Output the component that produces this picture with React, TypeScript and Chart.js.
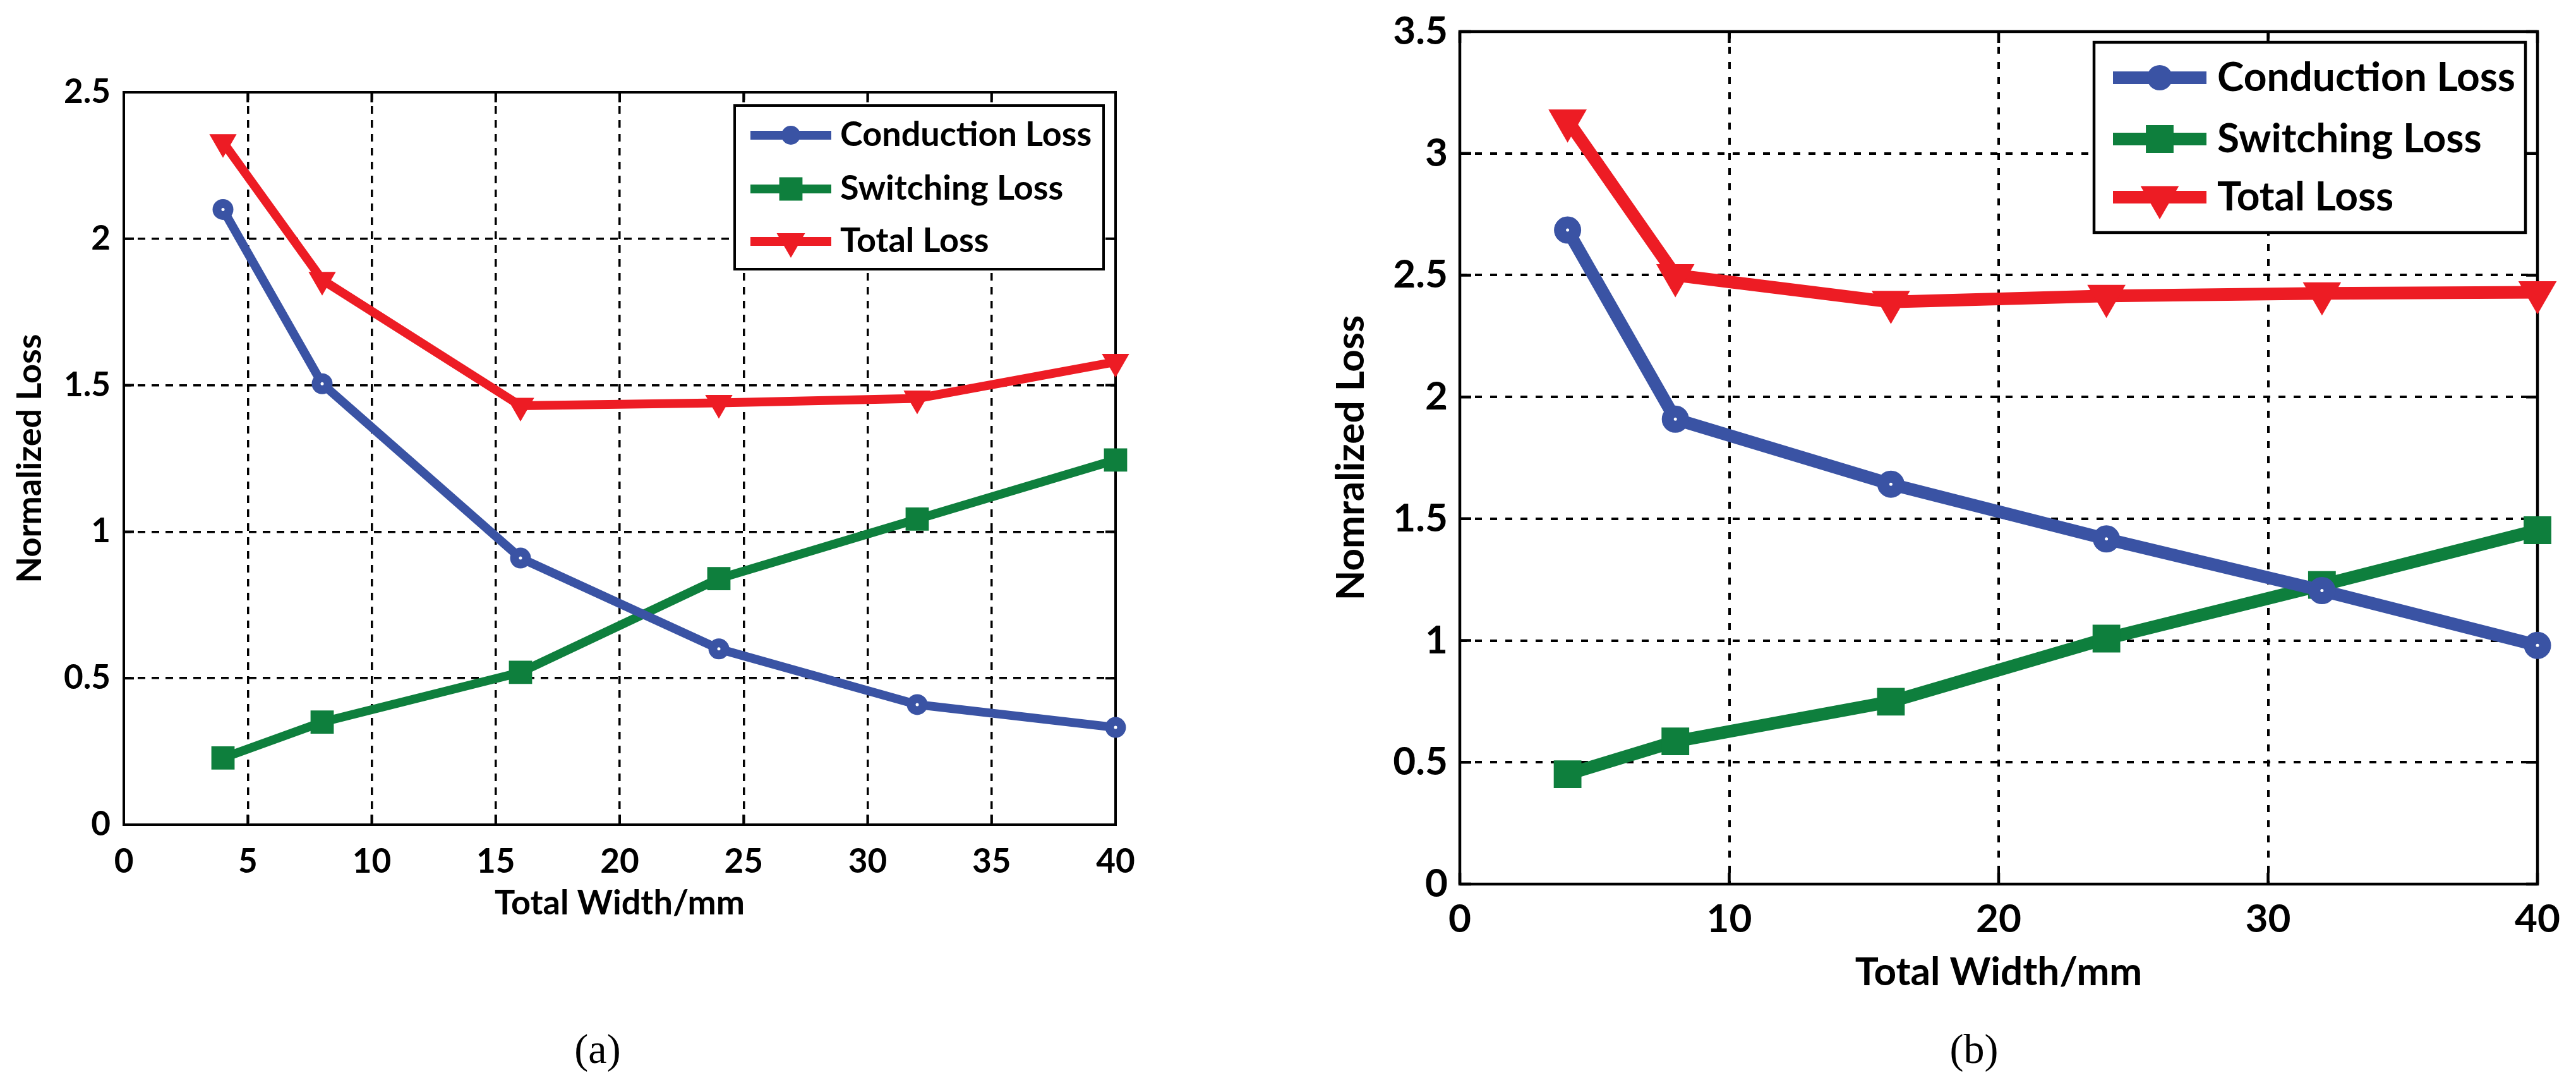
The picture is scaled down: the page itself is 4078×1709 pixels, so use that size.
import { useEffect, useRef } from 'react';
import { Chart, registerables, Plugin, ChartConfiguration } from 'chart.js';
import { drawPoint } from 'chart.js/helpers';

Chart.register(...registerables);

// ---- data ----
const widths = [4, 8, 16, 24, 32, 40];
const seriesNames = ['Conduction Loss', 'Switching Loss', 'Total Loss'];

const conductionA = [2.1, 1.505, 0.91, 0.6, 0.41, 0.332];
const switchingA = [0.228, 0.35, 0.52, 0.84, 1.043, 1.245];
const totalA = [2.33, 1.86, 1.43, 1.44, 1.455, 1.58];

const conductionB = [2.685, 1.909, 1.642, 1.417, 1.205, 0.98];
const switchingB = [0.451, 0.586, 0.749, 1.008, 1.228, 1.453];
const totalB = [3.135, 2.5, 2.39, 2.415, 2.425, 2.43];

const xTicksA = [0, 5, 10, 15, 20, 25, 30, 35, 40];
const yTicksA = [0, 0.5, 1, 1.5, 2, 2.5];
const xTicksB = [0, 10, 20, 30, 40];
const yTicksB = [0, 0.5, 1, 1.5, 2, 2.5, 3, 3.5];

const xTitle = 'Total Width/mm';
const yTitleA = 'Normalized Loss';
const yTitleB = 'Nomralized Loss';
const captions = ['(a)', '(b)'];

const colors = ['#3A53A4', '#0E7F3D', '#ED1C24'];
const FONT = 'Lato';

// ---- plugins ----
const axisFrame: Plugin = {
  id: 'axisFrame',
  beforeDatasetsDraw(chart, _args, opts: any) {
    const { ctx, chartArea } = chart;
    const { left, right, top, bottom } = chartArea;
    const xs = chart.scales.x;
    const ys = chart.scales.y;
    ctx.save();
    ctx.strokeStyle = '#000';
    ctx.lineWidth = opts.lineWidth;
    ctx.strokeRect(left, top, right - left, bottom - top);
    ctx.beginPath();
    xs.ticks.forEach((t) => {
      const px = xs.getPixelForValue(t.value);
      ctx.moveTo(px, bottom);
      ctx.lineTo(px, bottom - opts.tick);
      ctx.moveTo(px, top);
      ctx.lineTo(px, top + opts.tick);
    });
    ys.ticks.forEach((t) => {
      const py = ys.getPixelForValue(t.value);
      ctx.moveTo(left, py);
      ctx.lineTo(left + opts.tick, py);
      ctx.moveTo(right, py);
      ctx.lineTo(right - opts.tick, py);
    });
    ctx.stroke();
    ctx.restore();
  },
};

const boxLegend: Plugin = {
  id: 'boxLegend',
  afterDatasetsDraw(chart, _args, opts: any) {
    const { ctx } = chart;
    const [l, t, r, b] = opts.box;
    ctx.save();
    ctx.fillStyle = '#fff';
    ctx.fillRect(l, t, r - l, b - t);
    ctx.lineWidth = opts.borderWidth;
    ctx.strokeStyle = '#000';
    ctx.strokeRect(l, t, r - l, b - t);
    const [x1, x2] = opts.sample;
    chart.data.datasets.forEach((ds: any, i: number) => {
      const y = opts.rows[i];
      ctx.strokeStyle = ds.borderColor;
      ctx.lineWidth = ds.borderWidth;
      ctx.beginPath();
      ctx.moveTo(x1, y);
      ctx.lineTo(x2, y);
      ctx.stroke();
      ctx.fillStyle = ds.borderColor;
      drawPoint(
        ctx,
        { pointStyle: ds.pointStyle, rotation: ds.pointRotation || 0, radius: opts.markerRadius[i], borderWidth: 0 } as any,
        (x1 + x2) / 2,
        y
      );
      ctx.fillStyle = '#000';
      ctx.font = `bold ${opts.fontSize}px ${FONT}`;
      ctx.textBaseline = 'middle';
      ctx.textAlign = 'left';
      ctx.fillText(ds.label, opts.textX, y);
    });
    ctx.restore();
  },
};

// ---- panel styling ----
interface PanelStyle {
  canvasLeft: number;
  canvasWidth: number;
  padding: { left: number; top: number; right: number; bottom: number };
  yAxisWidth: number;
  xAxisHeight: number;
  tickFont: number;
  titleFont: number;
  yTickPad: number;
  xTickPad: number;
  lineWidth: number;
  circleRadius: number;
  circleBorder: number;
  rectRadius: number;
  triRadius: number;
  dash: number[];
  gridWidth: number;
  frameWidth: number;
  tickLen: number;
  legend: any;
  caption: { x: number; y: number; size: number };
}

const styleA: PanelStyle = {
  canvasLeft: 0,
  canvasWidth: 2040,
  padding: { left: 21, top: 146, right: 274, bottom: 252 },
  yAxisWidth: 175,
  xAxisHeight: 152,
  tickFont: 53,
  titleFont: 54,
  yTickPad: 21,
  xTickPad: 32,
  lineWidth: 14,
  circleRadius: 9.5,
  circleBorder: 14,
  rectRadius: 26,
  triRadius: 25,
  dash: [12, 10],
  gridWidth: 3.5,
  frameWidth: 4,
  tickLen: 16,
  legend: {
    box: [1163, 167, 1747, 426],
    rows: [214, 299, 382],
    sample: [1188, 1316],
    textX: 1330,
    fontSize: 54,
    borderWidth: 4,
    markerRadius: [15, 26, 26],
  },
  caption: { x: 946, y: 1660, size: 66 },
};

const styleB: PanelStyle = {
  canvasLeft: 2040,
  canvasWidth: 2038,
  padding: { left: 68, top: 42, right: 56, bottom: 139 },
  yAxisWidth: 203,
  xAxisHeight: 171,
  tickFont: 62,
  titleFont: 62,
  yTickPad: 19,
  xTickPad: 25,
  lineWidth: 20,
  circleRadius: 12,
  circleBorder: 19,
  rectRadius: 31,
  triRadius: 35,
  dash: [11, 13],
  gridWidth: 4,
  frameWidth: 4.5,
  tickLen: 18,
  legend: {
    box: [1275, 67, 1958, 368],
    rows: [123, 220, 312],
    sample: [1305, 1453],
    textX: 1470,
    fontSize: 64,
    borderWidth: 4.5,
    markerRadius: [20, 31, 35],
  },
  caption: { x: 3125, y: 1660, size: 66 },
};

function buildConfig(
  series: number[][],
  xTicks: number[],
  yTicks: number[],
  yTitle: string,
  st: PanelStyle
): ChartConfiguration<'line'> {
  const pts = (vals: number[]) => widths.map((w, i) => ({ x: w, y: vals[i] }));
  const common = {
    borderWidth: st.lineWidth,
    tension: 0,
    clip: false as const,
  };
  const tickFont = { family: FONT, weight: 'bold' as const, size: st.tickFont, lineHeight: 1 };
  const titleFont = { family: FONT, weight: 'bold' as const, size: st.titleFont, lineHeight: 1 };
  const plain = (v: number | string) => String(v);
  return {
    type: 'line',
    data: {
      datasets: [
        {
          ...common,
          label: seriesNames[0],
          data: pts(series[0]),
          borderColor: colors[0],
          pointStyle: 'circle',
          pointRadius: st.circleRadius,
          pointBorderWidth: st.circleBorder,
          pointBorderColor: colors[0],
          pointBackgroundColor: '#fff',
        },
        {
          ...common,
          label: seriesNames[1],
          data: pts(series[1]),
          borderColor: colors[1],
          pointStyle: 'rect',
          pointRadius: st.rectRadius,
          pointBorderWidth: 0,
          pointBackgroundColor: colors[1],
        },
        {
          ...common,
          label: seriesNames[2],
          data: pts(series[2]),
          borderColor: colors[2],
          pointStyle: 'triangle',
          pointRotation: 180,
          pointRadius: st.triRadius,
          pointBorderWidth: 0,
          pointBackgroundColor: colors[2],
        },
      ],
    },
    options: {
      animation: false,
      responsive: false,
      events: [],
      layout: { padding: st.padding },
      plugins: {
        legend: { display: false },
        tooltip: { enabled: false },
        axisFrame: { lineWidth: st.frameWidth, tick: st.tickLen },
        boxLegend: st.legend,
      } as any,
      scales: {
        x: {
          type: 'linear',
          min: xTicks[0],
          max: xTicks[xTicks.length - 1],
          afterBuildTicks: (s) => {
            s.ticks = xTicks.map((v) => ({ value: v }));
          },
          afterFit: (s) => {
            s.height = st.xAxisHeight;
          },
          grid: { color: '#000', lineWidth: st.gridWidth, drawTicks: false },
          border: { display: false, dash: st.dash },
          ticks: {
            color: '#000',
            padding: st.xTickPad,
            font: tickFont,
            maxRotation: 0,
            autoSkip: false,
            callback: plain,
          },
          title: { display: true, text: xTitle, color: '#000', padding: 0, font: titleFont },
        },
        y: {
          type: 'linear',
          min: yTicks[0],
          max: yTicks[yTicks.length - 1],
          afterBuildTicks: (s) => {
            s.ticks = yTicks.map((v) => ({ value: v }));
          },
          afterFit: (s) => {
            s.width = st.yAxisWidth;
          },
          grid: { color: '#000', lineWidth: st.gridWidth, drawTicks: false },
          border: { display: false, dash: st.dash },
          ticks: { color: '#000', padding: st.yTickPad, font: tickFont, autoSkip: false, callback: plain },
          title: { display: true, text: yTitle, color: '#000', padding: 0, font: titleFont },
        },
      },
    },
    plugins: [axisFrame, boxLegend],
  };
}

function LossChart({ config, st }: { config: ChartConfiguration<'line'>; st: PanelStyle }) {
  const canvasRef = useRef<HTMLCanvasElement>(null);

  useEffect(() => {
    if (!canvasRef.current) return;
    const chart = new Chart(canvasRef.current, config);
    return () => chart.destroy();
  }, [config]);

  return (
    <canvas
      ref={canvasRef}
      width={st.canvasWidth}
      height={1709}
      style={{ position: 'absolute', left: st.canvasLeft, top: 0, width: st.canvasWidth, height: 1709 }}
    />
  );
}

const configA = buildConfig([conductionA, switchingA, totalA], xTicksA, yTicksA, yTitleA, styleA);
const configB = buildConfig([conductionB, switchingB, totalB], xTicksB, yTicksB, yTitleB, styleB);

export default function App() {
  return (
    <div style={{ position: 'absolute', left: 0, top: 0, width: 4078, height: 1709, background: '#fff' }}>
      <LossChart config={configA} st={styleA} />
      <LossChart config={configB} st={styleB} />
      {[styleA, styleB].map((st, i) => (
        <div
          key={captions[i]}
          style={{
            position: 'absolute',
            left: st.caption.x,
            top: st.caption.y,
            transform: 'translate(-50%, -50%)',
            fontFamily: '"Liberation Serif", serif',
            fontSize: st.caption.size,
            lineHeight: 1,
            color: '#000',
          }}
        >
          {captions[i]}
        </div>
      ))}
    </div>
  );
}
